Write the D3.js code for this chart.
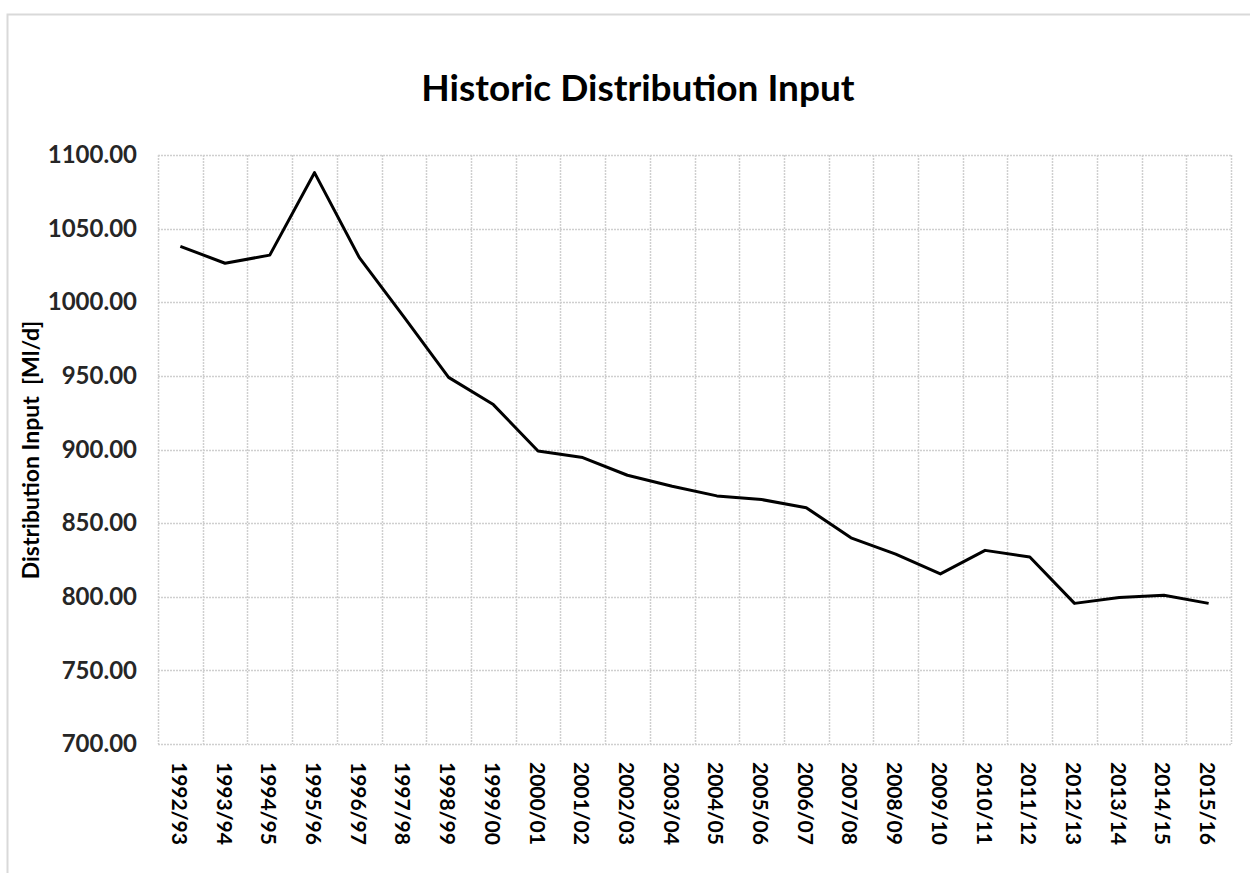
<!DOCTYPE html>
<html>
<head>
<meta charset="utf-8">
<script src="https://cdn.jsdelivr.net/npm/d3@7"></script>
<style>
  html, body { margin: 0; padding: 0; background: #fff; }
  svg text { font-family: Lato, "Open Sans", sans-serif; font-weight: 700; }
</style>
</head>
<body>
<svg id="chart" width="1250" height="873"></svg>
<script>
const categories = ["1992/93","1993/94","1994/95","1995/96","1996/97","1997/98","1998/99","1999/00",
  "2000/01","2001/02","2002/03","2003/04","2004/05","2005/06","2006/07","2007/08","2008/09",
  "2009/10","2010/11","2011/12","2012/13","2013/14","2014/15","2015/16"];
const distributionInput = [1038, 1026.5, 1032, 1088, 1030.5, 990, 949, 930.5,
  899, 894.5, 882.5, 875, 868.5, 866, 860.5, 840, 829,
  815.5, 831.5, 827, 795.5, 799.5, 801, 795.5];
const yTicks = [700, 750, 800, 850, 900, 950, 1000, 1050, 1100];
const titleText = "Historic Distribution Input";
const yTitleText = "Distribution Input\u00a0\u00a0[Ml/d]";

const svg = d3.select("#chart");
const L = 158, R = 1231, T = 155, B = 744;

// outer chart border
svg.append("rect").attr("x", 7.5).attr("y", 14.5).attr("width", 1260).attr("height", 900)
  .attr("fill", "none").attr("stroke", "#d9d9d9").attr("stroke-width", 2);

const x = d3.scaleBand().domain(categories).range([L, R]).padding(0);
const y = d3.scaleLinear().domain([700, 1100]).range([B, T]);

// horizontal gridlines
svg.append("g").selectAll("line").data(yTicks).join("line")
  .attr("x1", L).attr("x2", R)
  .attr("y1", d => Math.round(y(d)) + 0.5).attr("y2", d => Math.round(y(d)) + 0.5)
  .attr("stroke", "#cfcfcf").attr("stroke-width", 1.5).attr("stroke-dasharray", "2,1");

// vertical gridlines at category boundaries
const bounds = categories.map(c => x(c)).concat([x(categories[categories.length - 1]) + x.bandwidth()]);
svg.append("g").selectAll("line").data(bounds).join("line")
  .attr("x1", d => Math.round(d) + 0.5).attr("x2", d => Math.round(d) + 0.5)
  .attr("y1", T).attr("y2", B)
  .attr("stroke", "#cfcfcf").attr("stroke-width", 1.5).attr("stroke-dasharray", "2,1");

// y axis labels
const yAxis = d3.axisLeft(y).tickValues(yTicks).tickFormat(d3.format(".2f")).tickSize(0).tickPadding(21);
const gy = svg.append("g").attr("transform", `translate(${L},0)`).call(yAxis);
gy.select(".domain").remove();
gy.selectAll("text").attr("font-size", 24).attr("fill", "#262626")
  .style("font-family", "Lato, sans-serif").style("font-weight", 700);

// x axis labels (rotated)
const gx = svg.append("g");
gx.selectAll("text").data(categories).join("text")
  .attr("transform", d => `translate(${x(d) + x.bandwidth() / 2},762) rotate(90)`)
  .attr("text-anchor", "start").attr("dominant-baseline", "central")
  .attr("font-size", 21).attr("fill", "#000")
  .text(d => d);

// line
const line = d3.line().x((d, i) => x(categories[i]) + x.bandwidth() / 2).y(d => y(d));
svg.append("path").datum(distributionInput).attr("d", line)
  .attr("fill", "none").attr("stroke", "#000").attr("stroke-width", 3)
  .attr("stroke-linejoin", "round");

// title
svg.append("text").attr("x", 638).attr("y", 101).attr("text-anchor", "middle")
  .attr("font-size", 37).attr("fill", "#000").text(titleText);

// y title
svg.append("text").attr("transform", "translate(39,450) rotate(-90)")
  .attr("text-anchor", "middle").attr("font-size", 23).attr("fill", "#000")
  .text(yTitleText);
</script>
</body>
</html>
